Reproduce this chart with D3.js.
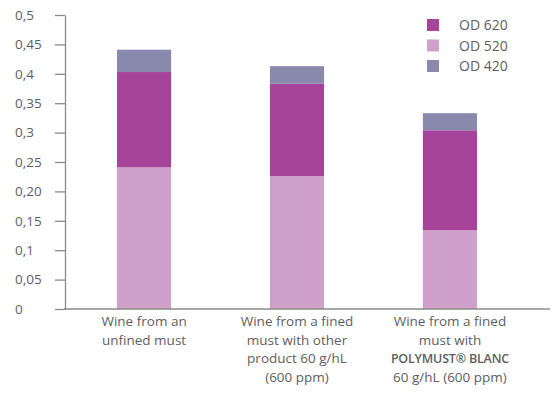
<!DOCTYPE html>
<html>
<head>
<meta charset="utf-8">
<script src="https://cdn.jsdelivr.net/npm/d3@7"></script>
<style>
  body { margin: 0; background: #fff; }
  text { font-family: "Open Sans", sans-serif; fill: #5e5e5e; }
</style>
</head>
<body>
<svg class="chart" width="552" height="396"></svg>
<script>
// categories (x labels, one array of lines per bar)
const categories = ["unfined", "other", "polymust"];
const categoryLines = [
  ["Wine from an", "unfined must"],
  ["Wine from a fined", "must with other", "product 60 g/hL", "(600 ppm)"],
  ["Wine from a fined", "must with", "<b>POLYMUST® BLANC", "60 g/hL (600 ppm)"]
];

// series, stacked bottom to top
const od520 = [0.241, 0.226, 0.134];
const od620 = [0.162, 0.157, 0.170];
const od420 = [0.038, 0.030, 0.029];

const seriesKeys = ["OD 520", "OD 620", "OD 420"];
const legendOrder = ["OD 620", "OD 520", "OD 420"];
const colors = {"OD 620": "#a54498", "OD 520": "#cea0ca", "OD 420": "#8889ad"};

const yTicks = [0, 0.05, 0.1, 0.15, 0.2, 0.25, 0.3, 0.35, 0.4, 0.45, 0.5];
const yTickLabels = ["0", "0,05", "0,1", "0,15", "0,20", "0,25", "0,3", "0,35", "0,4", "0,45", "0,5"];

let svg = d3.select("svg.chart");

let rows = categories.map((c, i) => ({
  cat: c, "OD 520": od520[i], "OD 620": od620[i], "OD 420": od420[i]
}));
let stacked = d3.stack().keys(seriesKeys)(rows);

let x = d3.scaleBand()
  .domain(categories)
  .range([65, 529])
  .paddingInner(0.646)
  .paddingOuter(0.34);

let y = d3.scaleLinear().domain([0, 0.5]).range([309, 15]);

// bars
svg.append("g")
  .selectAll("g")
  .data(stacked)
  .enter()
  .append("g")
    .attr("fill", d => colors[d.key])
  .selectAll("rect")
  .data(d => d)
  .enter()
  .append("rect")
    .attr("x", d => x(d.data.cat))
    .attr("width", x.bandwidth())
    .attr("y", d => y(d[1]))
    .attr("height", d => y(d[0]) - y(d[1]));

// y axis
let yAxis = svg.append("g")
  .attr("transform", "translate(65,0)")
  .call(d3.axisLeft(y).tickValues(yTicks).tickSize(10).tickSizeOuter(0)
    .tickFormat((d, i) => yTickLabels[i]));
yAxis.selectAll("line, path").attr("stroke", "#8a8a8a").attr("stroke-width", 1.3);
yAxis.selectAll("text")
  .attr("x", -50)
  .attr("text-anchor", "start")
  .style("font-size", "13.5px")
  .attr("fill", "#5e5e5e");

// x axis line
svg.append("line")
  .attr("x1", 64).attr("x2", 550)
  .attr("y1", y(0)).attr("y2", y(0))
  .attr("stroke", "#8a8a8a").attr("stroke-width", 1.5);

// x labels
let xl = svg.append("g")
  .selectAll("text")
  .data(categories)
  .enter()
  .append("text")
    .attr("text-anchor", "middle")
    .style("font-size", "13.5px")
    .attr("transform", d => "translate(" + (x(d) + x.bandwidth() / 2) + ",0)");

xl.each(function(d, i) {
  let t = d3.select(this);
  categoryLines[i].forEach((line, j) => {
    let bold = line.startsWith("<b>");
    t.append("tspan")
      .attr("x", 0)
      .attr("y", 326 + j * 18.7)
      .style("font-weight", bold ? "600" : null)
      .style("font-size", bold ? "12.5px" : null)
      .style("letter-spacing", bold ? "-0.2px" : null)
      .text(bold ? line.slice(3) : line);
  });
});

// legend
let legend = svg.append("g")
  .selectAll("g")
  .data(legendOrder)
  .enter()
  .append("g")
    .attr("transform", (d, i) => "translate(427," + (19 + i * 20.5) + ")");
legend.append("rect")
  .attr("width", 12).attr("height", 12)
  .attr("fill", d => colors[d]);
legend.append("text")
  .attr("x", 32).attr("y", 11)
  .style("font-size", "14px")
  .text(d => d);
</script>
</body>
</html>
